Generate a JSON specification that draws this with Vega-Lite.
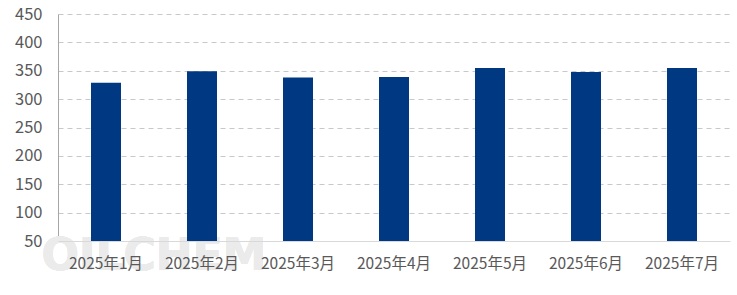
{
  "$schema": "https://vega.github.io/schema/vega-lite/v6.json",
  "width": 672,
  "height": 227,
  "autosize": {"type": "none"},
  "padding": {"left": 58, "top": 14, "right": 7, "bottom": 54},
  "background": "white",
  "config": {"view": {"stroke": null}, "font": "Noto Sans CJK SC"},
  "data": {
    "values": [
      {"month": "2025年1月", "value": 329},
      {"month": "2025年2月", "value": 349},
      {"month": "2025年3月", "value": 338},
      {"month": "2025年4月", "value": 339},
      {"month": "2025年5月", "value": 355},
      {"month": "2025年6月", "value": 348},
      {"month": "2025年7月", "value": 355}
    ]
  },
  "encoding": {
    "x": {
      "field": "month",
      "type": "nominal",
      "sort": null,
      "scale": {"paddingInner": 0.6875, "paddingOuter": 0.34375},
      "axis": {
        "title": null,
        "labelAngle": 0,
        "labelFontSize": 15.5,
        "labelColor": "#595959",
        "labelPadding": 15,
        "ticks": false,
        "domainColor": "#d9d9d9",
        "domainWidth": 1,
        "zindex": 1
      }
    },
    "y": {
      "field": "value",
      "type": "quantitative",
      "scale": {"domain": [50, 450], "zero": false, "nice": false},
      "axis": {
        "title": null,
        "values": [50, 100, 150, 200, 250, 300, 350, 400, 450],
        "tickCount": 9,
        "labelOverlap": false,
        "labelFontSize": 16.5,
        "labelColor": "#595959",
        "labelPadding": 16,
        "ticks": false,
        "domainColor": "#a6a6a6",
        "grid": true,
        "gridColor": "#c8c8c8",
        "gridDash": [5, 4],
        "gridWidth": 1
      }
    }
  },
  "layer": [
    {
      "mark": {"type": "text", "text": "OILCHEM", "fontSize": 44, "fontWeight": "bold", "font": "DejaVu Sans", "color": "#ebebeb", "align": "center", "baseline": "middle", "dx": 48, "dy": 16, "clip": false},
      "encoding": {
        "x": {"datum": "2025年1月"},
        "y": {"datum": 50, "type": "quantitative"}
      }
    },
    {
      "mark": {"type": "bar", "color": "#003882"},
      "encoding": {
        "y2": {"datum": 50}
      }
    }
  ]
}
